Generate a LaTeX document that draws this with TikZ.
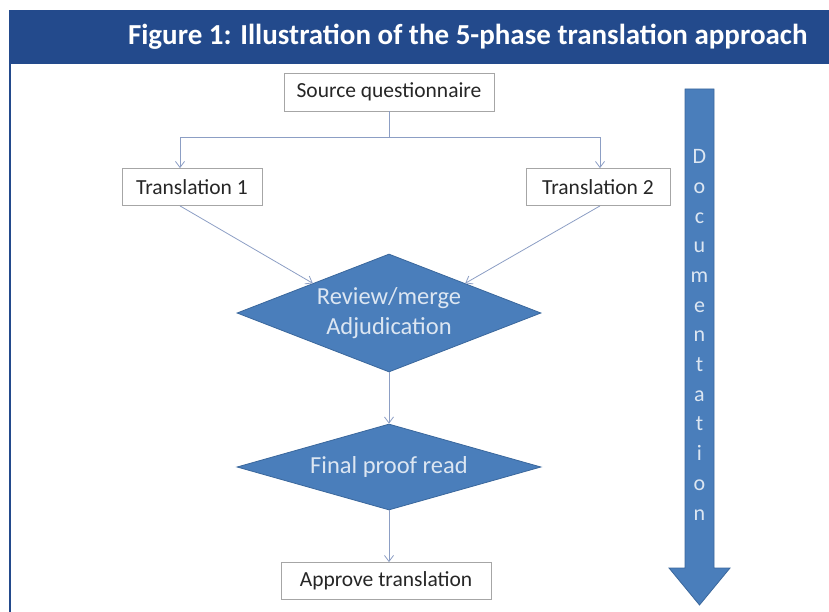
\documentclass[tikz,border=0pt]{standalone}
\usepackage{fontspec}
\setmainfont{Carlito}
\usepackage{tikz}
\usetikzlibrary{positioning, arrows.meta, shapes.geometric}

\definecolor{bandblue}{HTML}{234A8C}
\definecolor{shapeblue}{HTML}{4A7EBB}
\definecolor{shapeedge}{HTML}{3A679C}
\definecolor{linkgray}{HTML}{8C9EC4}
\definecolor{paletext}{HTML}{DCE6F2}

\tikzset{
  stepbox/.style={draw=gray!70, line width=0.8pt, fill=white, inner sep=0pt,
    text=black!85, font=\fontsize{21.5}{24}\selectfont},
  decision/.style={diamond, draw=shapeedge, line width=0.8pt, fill=shapeblue,
    inner sep=0pt, text=paletext, align=center, font=\fontsize{24.5}{30}\selectfont},
  link/.style={draw=linkgray, line width=0.8pt, -{Straight Barb[length=6pt,width=9pt]}}
}

\begin{document}
\begin{tikzpicture}[x=1pt, y=-1pt]
  \useasboundingbox (0,0) rectangle (829,612);

  % Title band and frame
  \fill[bandblue] (9,10) rectangle (829,64);
  \draw[bandblue, line width=2.5pt] (10,64) -- (10,612);
  \node[anchor=east, text=white, font=\fontsize{29}{32}\selectfont\bfseries]
    (title) at (811,37) {Figure 1: Illustration of the 5-phase translation approach};

  % Steps
  \node[stepbox, minimum width=210, minimum height=38] (source) at (389,92) {Source questionnaire};
  \node[stepbox, minimum width=140, minimum height=37] (trans1) at (192,187) {Translation 1};
  \node[stepbox, minimum width=144, minimum height=37] (trans2) at (598,187) {Translation 2};
  \node[decision, aspect=2.6, minimum width=304, minimum height=118] (review) at (389,313) {Review/merge\\Adjudication};
  \node[decision, aspect=3.5, minimum width=304, minimum height=86] (proof) at (389,467) {Final proof read};
  \node[stepbox, minimum width=210, minimum height=37] (approve) at (386,581) {Approve translation};

  % Connectors
  \coordinate (split) at (389,137);
  \draw[draw=linkgray, line width=0.8pt] (source.south) -- (split);
  \draw[link] (split) -| ([xshift=-12pt]trans1.north);
  \draw[link] (split) -| ([xshift=2pt]trans2.north);
  \draw[link] ([xshift=-12pt]trans1.south) -- (review.north west);
  \draw[link] ([xshift=2pt]trans2.south) -- (review.north east);
  \draw[link] (review.south) -- (proof.north);
  \draw[link] (proof.south) -- (proof.south |- approve.north);

  % Documentation arrow
  \draw[fill=shapeblue, draw=shapeedge, line width=0.8pt]
    (685,89) -- (714,89) -- (714,568) -- (730,568) -- (699.5,605)
    -- (669,568) -- (685,568) -- cycle;
  \node[text=paletext, align=center, font=\fontsize{22}{29.7}\selectfont, anchor=north]
    (doclabel) at (699.5,146) {D\\o\\c\\u\\m\\e\\n\\t\\a\\t\\i\\o\\n};
\end{tikzpicture}
\end{document}
